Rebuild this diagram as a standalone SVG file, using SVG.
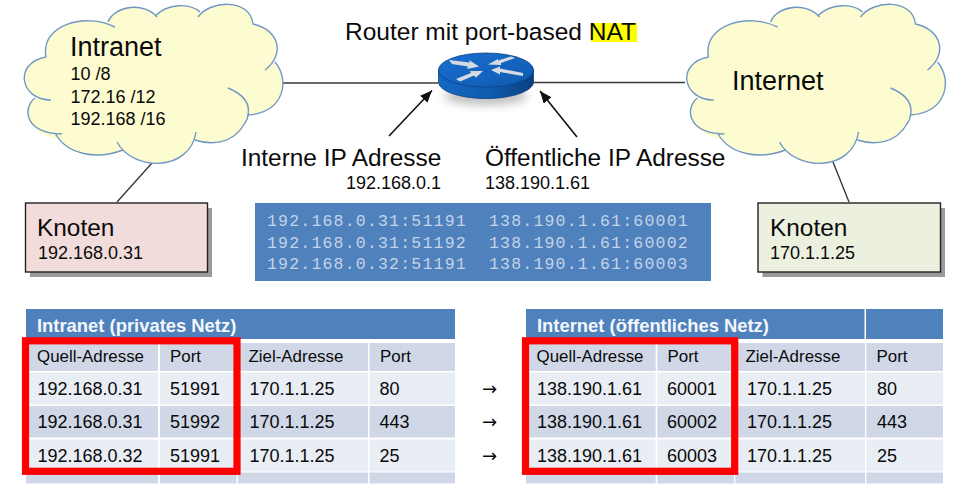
<svg xmlns="http://www.w3.org/2000/svg" xmlns:xlink="http://www.w3.org/1999/xlink" width="965" height="497" viewBox="0 0 965 497">
<style>
text{font-family:"Liberation Sans",Arial,sans-serif;fill:#0a0a0a}
.t27{font-size:27px}.t18{font-size:18px}.t24{font-size:24.400px}.t17{font-size:16.900px}
.mono{font-family:"Liberation Mono","Courier New",monospace;font-size:16.500px;letter-spacing:1.200px;fill:#c4d3e8}
.hd{font-size:18.400px;font-weight:bold;fill:#f4f7fb}
.ma{font-family:"DejaVu Sans",sans-serif;font-size:18px}
.blue{fill:#4f81bd}.dk{fill:#d0d8e8}.lt{fill:#e9edf4}
.red{fill:none;stroke:#ff0000;stroke-width:7.200}
.conn{fill:none;stroke:#3a3a3a;stroke-width:1.400}
.arr{fill:none;stroke:#111;stroke-width:1.600;marker-end:url(#ah)}
.cf{fill:#fdfbd0}.cs{fill:none;stroke:#6f97c4;stroke-width:1.400}
.box{stroke:#222;stroke-width:1.400}
.shadow{fill:#9a9a9a}
.ra{fill:#d5dbe3}
</style>
<defs>
<marker id="ah" markerUnits="userSpaceOnUse" markerWidth="14" markerHeight="12" refX="12" refY="5" orient="auto"><path d="M0,0L12,5L0,10z" fill="#111"/></marker>
<linearGradient id="side" x1="0" x2="1" y1="0" y2="0"><stop offset="0" stop-color="#1668c4"/><stop offset="0.550" stop-color="#0f5cb0"/><stop offset="1" stop-color="#0a3f7e"/></linearGradient>
<linearGradient id="top" x1="0" x2="1" y1="0" y2="1"><stop offset="0" stop-color="#1a6fd0"/><stop offset="1" stop-color="#0f5ab0"/></linearGradient>
<filter id="blur" x="-30%" y="-100%" width="160%" height="300%"><feGaussianBlur stdDeviation="5"/></filter>
<g id="cloud">
<path class="cf" d="M46,57C40,25 85,12 113,25L108,22C115,5 145,2 157,17L155,16C168,3 190,3 200,12L198,17C210,0 250,-2 253,24C280,30 285,55 265,70L275,62C290,80 285,112 248,115L245,123C233,145 210,145 195,140L196,132C190,172 133,172 117,142L123,150C97,160 67,155 55,133L62,140C23,133 23,107 35,98L51,100C20,100 13,63 46,57z"/>
<path class="cs" d="M46,57C40,25 85,12 115,27M108,22C115,5 145,2 157,17M155,16C168,3 190,3 200,12M198,17C210,0 250,-2 253,24C280,30 285,55 265,70M275,62C290,80 285,112 248,115M228,88C245,95 250,105 248,115C248,118 247,120 245,123C233,145 210,145 195,140M196,132C190,172 133,172 117,142M123,150C97,160 67,155 55,133M62,134C23,133 23,107 35,98M51,100C20,100 13,63 46,57"/>
</g>
</defs>
<rect width="965" height="497" fill="#fff"/>
<g id="connectors">
<path class="conn" d="M283,83H438M533,82.500H685M152,163L117,202M833,162L849,202"/>
<path class="arr" d="M389,136L432,90.500"/>
<path class="arr" d="M577,137L540,91"/>
</g>
<g id="intranet">
<use xlink:href="#cloud" href="#cloud"/>
<text class="t27" x="70" y="56">Intranet</text>
<text class="t18" x="70.500" y="80">10 /8</text>
<text class="t18" x="70.500" y="103">172.16 /12</text>
<text class="t18" x="70.500" y="125">192.168 /16</text>
</g>
<g id="internet">
<use xlink:href="#cloud" href="#cloud" x="662.500"/>
<text class="t27" x="732" y="90">Internet</text>
</g>
<g id="router">
<ellipse cx="486" cy="96" rx="42" ry="9" fill="#888" opacity=".55" filter="url(#blur)"/>
<path d="M438.500,70V82C438.500,91 460,98.500 486,98.500S533.500,91 533.500,82V70z" fill="url(#side)" stroke="#0b3f7c" stroke-width=".8"/>
<ellipse cx="486" cy="70" rx="47.500" ry="17" fill="url(#top)" stroke="#0b4488" stroke-width=".8"/>
<polygon class="ra" points="449,60 470,62.500 469,60 479,66.500 467,69 468,66.500 452,64"/>
<polygon class="ra" points="488,64.500 498,59 498,60.500 511,56.500 515,58 501,63 501,65"/>
<polygon class="ra" points="491,70 500,66.500 500,68.500 523,73 523,76 500,72 500,74.500"/>
<polygon class="ra" points="483,71 476,77.500 474,75.500 460,81.500 456,79 471,73 470,71"/>
<rect x="591" y="23" width="46" height="19" fill="#ffff00"/>
<text x="345" y="40" style="font-size:24.500px">Router mit port-based NAT</text>
</g>
<g id="label-intern">
<text class="t24" x="241" y="166">Interne IP Adresse</text>
<text class="t18" x="346" y="189">192.168.0.1</text>
</g>
<g id="label-public">
<text class="t24" x="485" y="166">Öffentliche IP Adresse</text>
<text class="t18" x="485" y="189">138.190.1.61</text>
</g>
<g id="knoten-left">
<rect class="shadow" x="30" y="208" width="182" height="69"/>
<rect class="box" x="25.500" y="203" width="182" height="69" fill="#f2dcdb"/>
<text class="t24" x="37" y="236">Knoten</text>
<text class="t18" x="38" y="259">192.168.0.31</text>
</g>
<g id="knoten-right">
<rect class="shadow" x="762.500" y="208" width="182.500" height="69"/>
<rect class="box" x="758" y="203" width="182.500" height="69" fill="#ebf1de"/>
<text class="t24" x="770" y="236">Knoten</text>
<text class="t18" x="770" y="259">170.1.1.25</text>
</g>
<g id="nat-table">
<rect class="blue" x="255" y="203" width="456" height="78"/>
<text class="mono" x="267" y="226">192.168.0.31:51191</text><text class="mono" x="489" y="226">138.190.1.61:60001</text>
<text class="mono" x="267" y="247.500">192.168.0.31:51192</text><text class="mono" x="489" y="247.500">138.190.1.61:60002</text>
<text class="mono" x="267" y="269">192.168.0.32:51191</text><text class="mono" x="489" y="269">138.190.1.61:60003</text>
</g>
<g id="table-intranet">
<rect class="blue" x="26" y="309" width="429" height="30"/>
<g class="dk"><rect x="26" y="343" width="132" height="28"/><rect x="160" y="343" width="76.500" height="28"/><rect x="238" y="343" width="130" height="28"/><rect x="369.500" y="343" width="85.500" height="28"/></g>
<g class="lt"><rect x="26" y="372.500" width="132" height="32"/><rect x="160" y="372.500" width="76.500" height="32"/><rect x="238" y="372.500" width="130" height="32"/><rect x="369.500" y="372.500" width="85.500" height="32"/></g>
<g class="dk"><rect x="26" y="406" width="132" height="31.500"/><rect x="160" y="406" width="76.500" height="31.500"/><rect x="238" y="406" width="130" height="31.500"/><rect x="369.500" y="406" width="85.500" height="31.500"/></g>
<g class="lt"><rect x="26" y="439.500" width="132" height="32"/><rect x="160" y="439.500" width="76.500" height="32"/><rect x="238" y="439.500" width="130" height="32"/><rect x="369.500" y="439.500" width="85.500" height="32"/></g>
<g class="dk"><rect x="26" y="472.500" width="132" height="11"/><rect x="160" y="472.500" width="76.500" height="11"/><rect x="238" y="472.500" width="130" height="11"/><rect x="369.500" y="472.500" width="85.500" height="11"/></g>
<text class="hd" x="37" y="332">Intranet (privates Netz)</text>
<text class="t17" x="37" y="362">Quell-Adresse</text><text class="t17" x="170" y="362">Port</text><text class="t17" x="248.500" y="362">Ziel-Adresse</text><text class="t17" x="380" y="362">Port</text>
<text class="t18" x="37.500" y="395">192.168.0.31</text><text class="t18" x="170" y="395">51991</text><text class="t18" x="249.500" y="395">170.1.1.25</text><text class="t18" x="379.500" y="395">80</text>
<text class="t18" x="37.500" y="428">192.168.0.31</text><text class="t18" x="170" y="428">51992</text><text class="t18" x="249.500" y="428">170.1.1.25</text><text class="t18" x="379.500" y="428">443</text>
<text class="t18" x="37.500" y="461.500">192.168.0.32</text><text class="t18" x="170" y="461.500">51991</text><text class="t18" x="249.500" y="461.500">170.1.1.25</text><text class="t18" x="379.500" y="461.500">25</text>
<rect class="red" x="25.500" y="340.800" width="211.500" height="130.500"/>
</g>
<g id="mapping-arrows">
<text class="ma" x="482" y="395">→</text>
<text class="ma" x="482" y="428">→</text>
<text class="ma" x="482" y="461.500">→</text>
</g>
<g id="table-internet">
<rect class="blue" x="526" y="309" width="338.500" height="30"/><rect class="blue" x="866" y="309" width="77" height="30"/>
<g class="dk"><rect x="526" y="343" width="129.700" height="28"/><rect x="657.300" y="343" width="76.700" height="28"/><rect x="735.300" y="343" width="129.700" height="28"/><rect x="866.300" y="343" width="76.700" height="28"/></g>
<g class="lt"><rect x="526" y="372.500" width="129.700" height="32"/><rect x="657.300" y="372.500" width="76.700" height="32"/><rect x="735.300" y="372.500" width="129.700" height="32"/><rect x="866.300" y="372.500" width="76.700" height="32"/></g>
<g class="dk"><rect x="526" y="406" width="129.700" height="31.500"/><rect x="657.300" y="406" width="76.700" height="31.500"/><rect x="735.300" y="406" width="129.700" height="31.500"/><rect x="866.300" y="406" width="76.700" height="31.500"/></g>
<g class="lt"><rect x="526" y="439.500" width="129.700" height="32"/><rect x="657.300" y="439.500" width="76.700" height="32"/><rect x="735.300" y="439.500" width="129.700" height="32"/><rect x="866.300" y="439.500" width="76.700" height="32"/></g>
<g class="dk"><rect x="526" y="472.500" width="129.700" height="11"/><rect x="657.300" y="472.500" width="76.700" height="11"/><rect x="735.300" y="472.500" width="129.700" height="11"/><rect x="866.300" y="472.500" width="76.700" height="11"/></g>
<text class="hd" x="537" y="332">Internet (öffentliches Netz)</text>
<text class="t17" x="536.500" y="362">Quell-Adresse</text><text class="t17" x="667.500" y="362">Port</text><text class="t17" x="745.500" y="362">Ziel-Adresse</text><text class="t17" x="876.500" y="362">Port</text>
<text class="t18" x="537" y="395">138.190.1.61</text><text class="t18" x="667" y="395">60001</text><text class="t18" x="747" y="395">170.1.1.25</text><text class="t18" x="877" y="395">80</text>
<text class="t18" x="537" y="428">138.190.1.61</text><text class="t18" x="667" y="428">60002</text><text class="t18" x="747" y="428">170.1.1.25</text><text class="t18" x="877" y="428">443</text>
<text class="t18" x="537" y="461.500">138.190.1.61</text><text class="t18" x="667" y="461.500">60003</text><text class="t18" x="747" y="461.500">170.1.1.25</text><text class="t18" x="877" y="461.500">25</text>
<rect class="red" x="525.500" y="340.800" width="209.200" height="130.500"/>
</g>
</svg>
